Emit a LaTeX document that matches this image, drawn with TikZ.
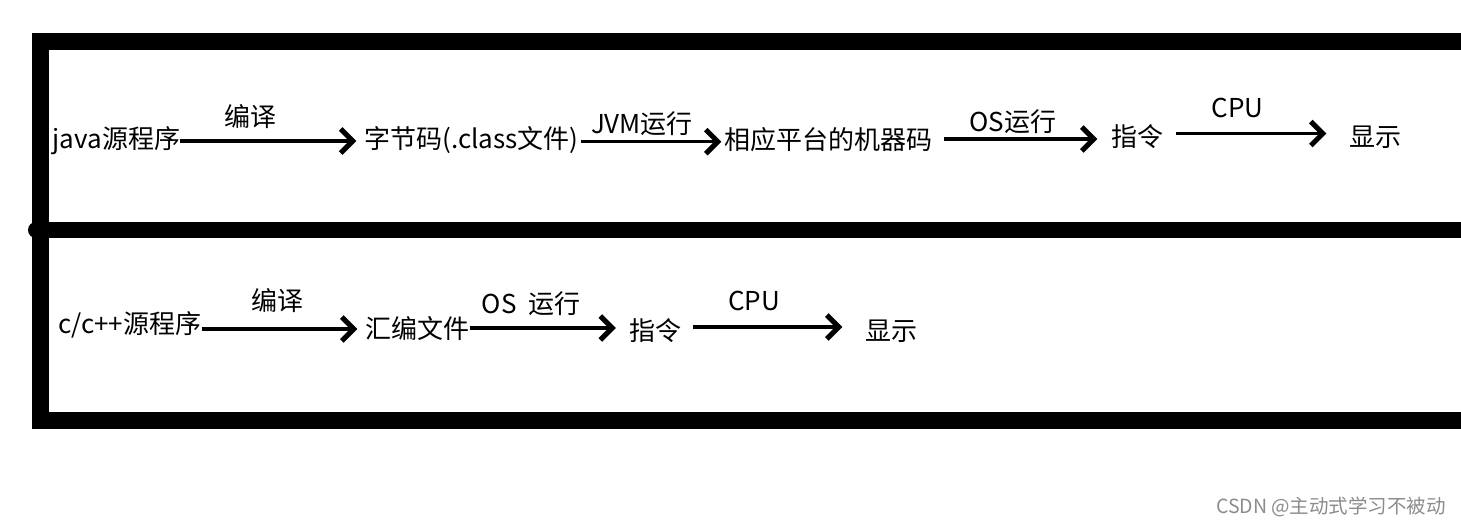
\documentclass[tikz,border=0pt]{standalone}
\usepackage{fontspec}
\newfontfamily\cjk{Noto Sans CJK SC}
\usetikzlibrary{arrows.meta}
\begin{document}
\begin{tikzpicture}[x=1pt,y=-1pt,
  txt/.style={font=\cjk\fontsize{26}{30}\selectfont, inner sep=0pt, anchor=base},
  lbl/.style={txt},
  wmtext/.style={font=\cjk\fontsize{19.5}{22}\selectfont, text=black!45, inner sep=0pt, anchor=base},
  arr/.style={line width=3.5pt, -{Straight Barb[length=12pt,width=24pt,line width=5pt]}}]
\useasboundingbox (0,0) rectangle (1461,525);
\fill[white] (0,0) rectangle (1461,525);
% frame
\draw[line width=17pt] (1470,41.5) -- (40.5,41.5) -- (40.5,420) -- (1470,420);
\draw[line width=16pt, line cap=round] (36,230) -- (1470,230);
% row 1
\node[txt] (j1) at (116.5,148) {java源程序};
\node[txt] (j2) at (471.5,148) {字节码(.class文件)};
\node[txt] (j3) at (828.5,149) {相应平台的机器码};
\node[txt] (j4) at (1137.5,146) {指令};
\node[txt] (j5) at (1375.5,146) {显示};
\draw[arr, shorten >=8pt] ([yshift=7pt]j1.base east) -- ([yshift=7pt]j1.base east -| j2.west);
\draw[arr, shorten <=2pt, shorten >=3pt] ([yshift=6.3pt]j2.base east) -- ([yshift=6.3pt]j2.base east -| j3.west);
\draw[arr, shorten <=11pt, shorten >=14pt] ([yshift=10pt]j3.base east) -- ([yshift=10pt]j3.base east -| j4.west);
\draw[arr, shorten <=12pt, shorten >=23pt] ([yshift=12.5pt]j4.base east) -- ([yshift=12.5pt]j4.base east -| j5.west);
\node[lbl] (l1) at (250,126) {编译};
\node[lbl] (l2) at (642,133) {JVM运行};
\node[lbl] (l3) at (1013,131) {OS运行};
\node[lbl] (l4) at (1237.5,117) {CPU};
% row 2
\node[txt] (c1) at (130,333) {c/c++源程序};
\node[txt] (c2) at (417.5,338) {汇编文件};
\node[txt] (c3) at (655,340) {指令};
\node[txt] (c4) at (891.5,340) {显示};
\draw[arr, shorten >=8pt] ([yshift=4pt]c1.base east) -- ([yshift=4pt]c1.base east -| c2.west);
\draw[arr, shorten >=13pt] ([yshift=10pt]c2.base east) -- ([yshift=10pt]c2.base east -| c3.west);
\draw[arr, shorten <=12pt, shorten >=23pt] ([yshift=13pt]c3.base east) -- ([yshift=13pt]c3.base east -| c4.west);
\node[lbl] (m1) at (277.5,310) {编译};
\node[lbl] (m2) at (531,313) {OS\ \ 运行};
\node[lbl] (m3) at (754,310) {CPU};
% watermark
\node[wmtext] (wm) at (1331,513) {CSDN @主动式学习不被动};
\end{tikzpicture}
\end{document}
